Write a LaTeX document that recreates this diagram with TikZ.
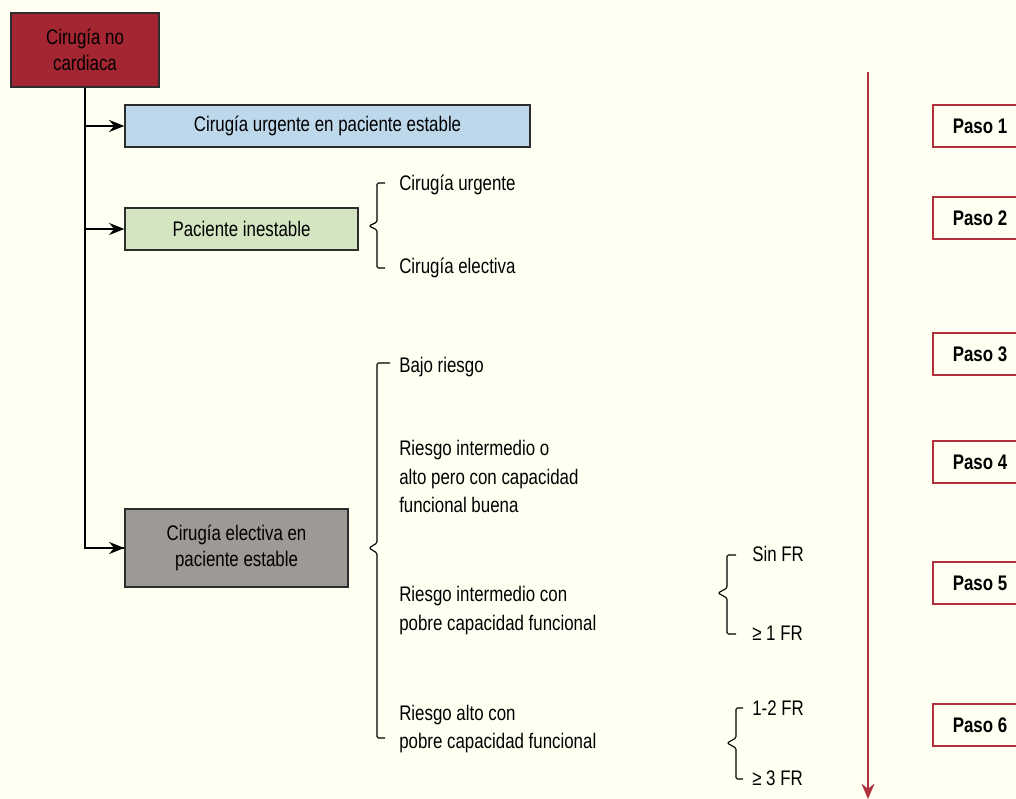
\documentclass[tikz,border=0pt]{standalone}
\usepackage{fontspec}
\setmainfont{Liberation Sans}[FakeStretch=0.8]
\usepackage{xcolor}
\usetikzlibrary{arrows.meta}
\definecolor{bgCream}{RGB}{255, 255, 242}
\definecolor{cardioRed}{RGB}{163, 38, 50}
\definecolor{urgentBlue}{RGB}{189, 215, 235}
\definecolor{unstableGreen}{RGB}{211, 230, 193}
\definecolor{electiveGray}{RGB}{157, 153, 149}
\definecolor{pasoRed}{RGB}{176, 48, 60}
\definecolor{boxBorder}{RGB}{45, 45, 45}

\begin{document}
\begin{tikzpicture}[x=0.025cm, y=-0.025cm]
    \tikzstyle{box} = [draw=boxBorder, line width=0.9pt, inner sep=0pt, font=\fontsize{15}{18.5}\selectfont, align=center]
    \tikzstyle{paso} = [draw=pasoRed, line width=0.9pt, fill=bgCream, minimum width=2.35cm, minimum height=1.05cm, inner sep=0pt, font=\fontsize{15}{18}\selectfont\bfseries]
    \tikzstyle{label} = [anchor=west, inner sep=0pt, font=\fontsize{15}{20.3}\selectfont, align=left]
    \tikzstyle{bracket} = [draw=black, line width=0.8pt, rounded corners=1pt]
    \tikzstyle{branch} = [-{Stealth[length=0.38cm, width=0.3cm]}, line width=1.5pt]
    \tikzstyle{flow} = [-{Stealth[length=0.38cm, width=0.32cm]}, line width=1.5pt, pasoRed]

    % Background
    \path[use as bounding box, fill=bgCream] (0,0) rectangle (1016,799);
    \clip (0,0) rectangle (1016,799);

    % Boxes
    \node[box, fill=cardioRed, minimum width=3.7cm, minimum height=1.85cm] (cardio) at (85,50) {Cirugía no\\cardiaca};
    \node[box, fill=urgentBlue, minimum width=10.125cm, minimum height=1.05cm] (urgent) at (327.5,126) {Cirugía urgente en paciente estable};
    \node[box, fill=unstableGreen, minimum width=5.825cm, minimum height=1.05cm] (unstable) at (241.5,229) {Paciente inestable};
    \node[box, fill=electiveGray, minimum width=5.575cm, minimum height=1.95cm] (elective) at (236.5,548) {Cirugía electiva en\\paciente estable};

    % Trunk and branches
    \draw[line width=1.5pt] (cardio.south) |- (elective.west);
    \draw[branch] (cardio.south |- urgent.west) -- (urgent.west);
    \draw[branch] (cardio.south |- unstable.west) -- (unstable.west);
    \draw[branch] (cardio.south |- elective.west) -- (elective.west);

    % Brackets
    \draw[bracket] (385,183) -- (377,183) -- (377,222) -- (369,226) -- (377,230) -- (377,268) -- (385,268);
    \draw[bracket] (390,363) -- (377,363) -- (377,543) -- (369,548) -- (377,553) -- (377,738) -- (385,738);
    \draw[bracket] (736,555) -- (727,555) -- (727,588) -- (718,593) -- (727,598) -- (727,634) -- (736,634);
    \draw[bracket] (743,708) -- (736,708) -- (736,738) -- (727,743) -- (736,748) -- (736,779) -- (743,779);

    % Labels
    \node[label] (urgente) at (399,185) {Cirugía urgente};
    \node[label] (electiva) at (399,268) {Cirugía electiva};
    \node[label] (bajo) at (399,367) {Bajo riesgo};
    \node[label] (intermBuena) at (399,476.5) {Riesgo intermedio o\\alto pero con capacidad\\funcional buena};
    \node[label] (intermPobre) at (399,610.5) {Riesgo intermedio con\\pobre capacidad funcional};
    \node[label] (altoPobre) at (399,729) {Riesgo alto con\\pobre capacidad funcional};
    \node[label] (sinFR) at (752,554) {Sin FR};
    \node[label] (unoFR) at (752,633) {≥ 1 FR};
    \node[label] (dosFR) at (752,708) {1-2 FR};
    \node[label] (tresFR) at (752,778) {≥ 3 FR};

    % Steps
    \coordinate (flowTop) at (868,72);
    \coordinate (flowEnd) at (868,799);
    \draw[flow] (flowTop) -- (flowEnd);
    \node[paso] (p1) at (980,126) {Paso 1};
    \node[paso] (p2) at (980,218) {Paso 2};
    \node[paso] (p3) at (980,354) {Paso 3};
    \node[paso] (p4) at (980,462) {Paso 4};
    \node[paso] (p5) at (980,583) {Paso 5};
    \node[paso] (p6) at (980,725) {Paso 6};
\end{tikzpicture}
\end{document}
